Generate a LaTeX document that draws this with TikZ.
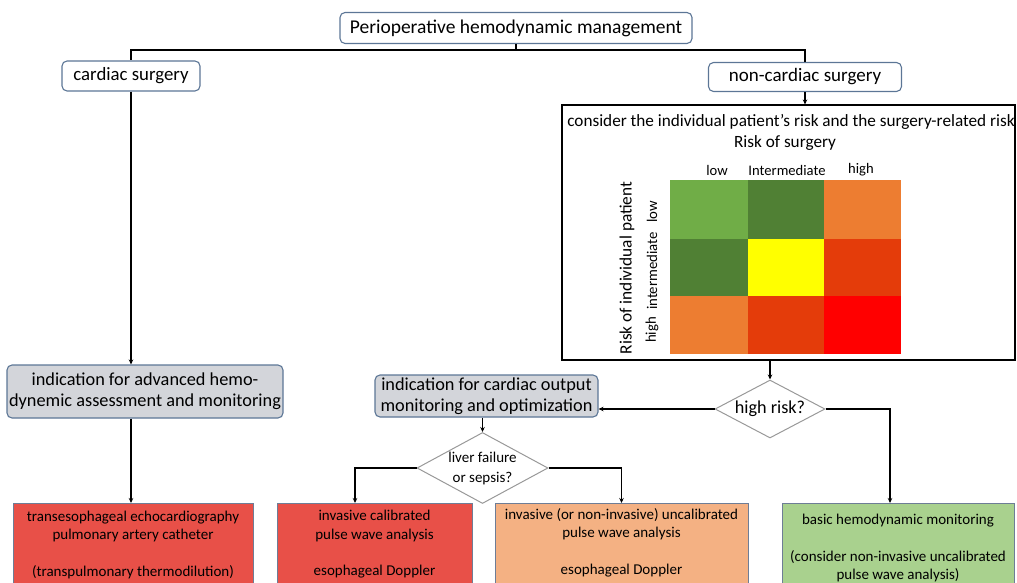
\documentclass[tikz,border=0pt]{standalone}
\usepackage{fontspec}
\setmainfont{Carlito}
\usetikzlibrary{shapes.geometric,arrows.meta}
\definecolor{bluegray}{RGB}{92,118,150}
\definecolor{boxgray}{RGB}{211,213,218}
\definecolor{outline}{RGB}{110,125,150}
\definecolor{cRed}{RGB}{232,80,72}
\definecolor{cOrange}{RGB}{244,177,131}
\definecolor{cGreen}{RGB}{169,209,142}
\definecolor{mLight}{RGB}{112,173,71}
\definecolor{mDark}{RGB}{80,128,52}
\definecolor{mOrange}{RGB}{237,125,49}
\definecolor{mRedOr}{RGB}{228,60,10}
\definecolor{mRed}{RGB}{255,0,0}
\definecolor{mYellow}{RGB}{255,255,0}
\tikzset{
  rbox/.style={draw=bluegray, rounded corners=5pt, line width=1.1pt, fill=white, inner sep=0pt, align=center},
  gbox/.style={rbox, fill=boxgray},
  outbox/.style={draw=outline, line width=1pt, inner sep=0pt, anchor=north, minimum height=90pt},
  outtxt/.style={inner sep=0pt, align=center, font=\fontsize{15}{18.5}\selectfont},
  dia/.style={diamond, draw=gray!80, line width=1pt, fill=white, inner sep=0pt, align=center},
  conn/.style={line width=1.2pt, black},
  arr/.style={conn, -{Stealth[length=5pt,width=4.5pt]}},
  lbl/.style={inner sep=0pt},
}
\begin{document}
\begin{tikzpicture}[x=1pt,y=-1pt]
\useasboundingbox (0,0) rectangle (1017,583);
\begin{scope}
\clip (0,0) rectangle (1017,583);
% top
\node[rbox, minimum width=352pt, minimum height=31pt, font=\fontsize{19.5}{22}\selectfont] (top) at (516,28) {Perioperative hemodynamic management};
\node[rbox, minimum width=138pt, minimum height=30pt, font=\fontsize{18.8}{22}\selectfont] (card) at (131,76) {cardiac surgery};
\node[rbox, minimum width=193pt, minimum height=29pt, font=\fontsize{19}{22}\selectfont] (noncard) at (805,77) {non-cardiac surgery};
\coordinate (j) at (516,50);
\draw[conn] (top.south) -- (j);
\draw[conn] (j) -| (card.north);
\draw[conn] (j) -| (noncard.north);

% risk box
\node[draw, line width=1.1pt, minimum width=453pt, minimum height=255pt, inner sep=0pt] (risk) at (788.5,232.5) {};
\draw[arr] (noncard.south) -- (noncard.south |- risk.north);
\node[lbl, font=\fontsize{17.2}{20}\selectfont] (riskhead) at (791,122) {consider the individual patient’s risk and the surgery-related risk};
\node[lbl, font=\fontsize{17.2}{20}\selectfont] (rsurg) at (785,143) {Risk of surgery};
\node[lbl, font=\fontsize{14.6}{17}\selectfont] (clow) at (717,170) {low};
\node[lbl, font=\fontsize{14.6}{17}\selectfont] (cint) at (787,170) {Intermediate};
\node[lbl, font=\fontsize{14.6}{17}\selectfont] (chigh) at (861,170) {high};
\node[lbl, rotate=90, font=\fontsize{17.3}{20}\selectfont] (rpat) at (627,268) {Risk of individual patient};
\node[lbl, rotate=90, font=\fontsize{14.8}{17}\selectfont] (rlow) at (652,212) {low};
\node[lbl, rotate=90, font=\fontsize{14.8}{17}\selectfont] (rint) at (652,271) {intermediate};
\node[lbl, rotate=90, font=\fontsize{14.8}{17}\selectfont] (rhigh) at (652,330) {high};
% matrix
\fill[mLight] (670,180) rectangle (748,239);
\fill[mDark] (748,180) rectangle (824,239);
\fill[mOrange] (824,180) rectangle (901,239);
\fill[mDark] (670,239) rectangle (748,296);
\fill[mYellow] (748,239) rectangle (824,296);
\fill[mRedOr] (824,239) rectangle (901,296);
\fill[mOrange] (670,296) rectangle (748,354);
\fill[mRedOr] (748,296) rectangle (824,354);
\fill[mRed] (824,296) rectangle (901,354);

% high risk diamond
\node[dia, aspect=1.9, minimum width=110pt, minimum height=58pt, font=\fontsize{18.2}{20}\selectfont] (hr) at (770,409) {high risk?};
\draw[arr] (hr.north |- risk.south) -- (hr.north);

% gray boxes
\node[gbox, minimum width=276pt, minimum height=53pt, font=\fontsize{18.3}{21}\selectfont] (adv) at (145,391.5) {indication for advanced hemo-\\dynemic assessment and monitoring};
\draw[arr] (card.south) -- (card.south |- adv.north);
\node[gbox, minimum width=223pt, minimum height=42pt, font=\fontsize{18.3}{20.5}\selectfont] (co) at (486.5,396) {indication for cardiac output\\monitoring and optimization};
\draw[arr] (hr.west) -- (hr.west -| co.east);

% liver diamond
\node[dia, aspect=1.87, minimum width=131pt, minimum height=71pt, font=\fontsize{15}{20}\selectfont] (liver) at (482.5,468) {liver failure\\or sepsis?};
\draw[arr] (liver.north |- co.south) -- (liver.north);

% output boxes
\node[outbox, fill=cRed, minimum width=240pt] (tee) at (133,503) {};
\node[outtxt] (teetxt) at (133,544.5) {transesophageal echocardiography\\pulmonary artery catheter\\[18pt](transpulmonary thermodilution)};
\node[outbox, fill=cRed, minimum width=195pt] (cal) at (374.5,503) {};
\node[outtxt] (caltxt) at (374.5,544.5) {invasive calibrated\\pulse wave analysis\\[18pt]esophageal Doppler};
\node[outbox, fill=cOrange, minimum width=253pt] (uncal) at (621.5,503) {};
\node[outtxt] (uncaltxt) at (621.5,542.5) {invasive (or non-invasive) uncalibrated\\pulse wave analysis\\[18pt]esophageal Doppler};
\node[outbox, fill=cGreen, minimum width=232pt] (basic) at (898,503) {};
\node[outtxt] (basictxt) at (898,548) {basic hemodynamic monitoring\\[18pt](consider non-invasive uncalibrated\\pulse wave analysis)};

\draw[arr] (card.south |- adv.south) -- (card.south |- tee.north);
\coordinate (calin) at (355,503);
\draw[arr] (liver.west) -| (calin);
\draw[arr] (liver.east) -| (uncal.north);
\coordinate (basicin) at (890,503);
\draw[arr] (hr.east) -| (basicin);
\end{scope}
\end{tikzpicture}
\end{document}
